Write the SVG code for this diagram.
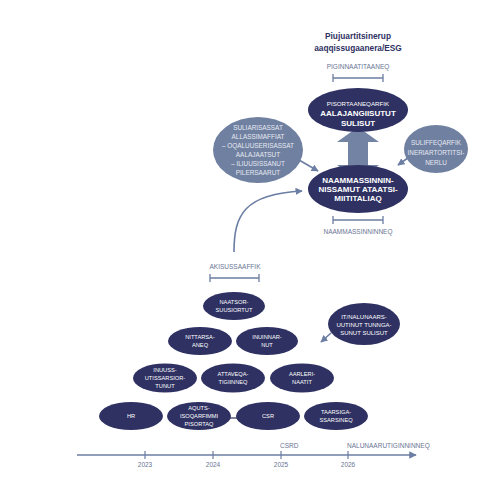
<svg xmlns="http://www.w3.org/2000/svg" width="500" height="500" viewBox="0 0 500 500">
<defs>
<marker id="ah" viewBox="0 0 10 10" refX="9" refY="5" markerWidth="5" markerHeight="5" orient="auto" markerUnits="strokeWidth">
<path d="M0,0 L10,5 L0,10 z" fill="#6c7ea3"/>
</marker>
<marker id="ahs" viewBox="0 0 10 10" refX="9" refY="5" markerWidth="4.5" markerHeight="4.5" orient="auto" markerUnits="strokeWidth">
<path d="M0,0 L10,5 L0,10 z" fill="#6c7ea3"/>
</marker>
</defs>
<style>
text{font-family:"Liberation Sans",Arial,sans-serif;text-anchor:middle}
.dark{fill:#2e3162}
.grey{fill:#7080a1}
.wt{fill:#ffffff;font-size:5.7px}
.gt{fill:#e6eaf2;font-size:6.4px}
.lbl{fill:#6a7594;font-size:6.5px}
.ttl{fill:#2e3162;font-size:8.3px;font-weight:bold}
.br{stroke:#6c7ea3;stroke-width:1.3;fill:none}
.con{stroke:#6c7ea3;fill:none}
</style>
<rect width="500" height="500" fill="#ffffff"/>

<g id="title">
<text class="ttl" x="358" y="39">Piujuartitsinerup</text>
<text class="ttl" x="358" y="51">aaqqissugaanera/ESG</text>
</g>

<g id="bracket-top">
<text class="lbl" x="358" y="69">PIGINNAATITAANEQ</text>
<path class="br" d="M333,78 H383 M333,74 V82 M383,74 V82"/>
</g>

<g id="connectors">
<path d="M358,127 L379,142 L368,142 L368,165 L379,165 L358,180 L337,165 L348,165 L348,142 L337,142 Z" fill="#7383a3"/>
<path class="con" stroke-width="1.6" d="M299,160 L318,171" marker-end="url(#ahs)"/>
<path class="con" stroke-width="1.6" d="M412,155 L398,165" marker-end="url(#ahs)"/>
<path class="con" stroke-width="1.6" d="M234,252 C234,215 244,194 302,191" marker-end="url(#ahs)"/>
<path class="con" stroke-width="1.6" d="M331,333 L321,342" marker-end="url(#ahs)"/>
<path stroke="#2e3162" stroke-width="1.2" d="M229,418 H238"/>
</g>

<g id="n-pisortaaneqarfik">
<ellipse class="dark" cx="358" cy="110" rx="50" ry="22"/>
<text x="358" y="106" style="fill:#fff;font-size:6.2px">PISORTAANEQARFIK</text>
<text x="358" y="116" style="fill:#fff;font-size:8px;font-weight:bold">AALAJANGIISUTUT</text>
<text x="358" y="126" style="fill:#fff;font-size:8px;font-weight:bold">SULISUT</text>
</g>

<g id="n-naammassinnin">
<ellipse class="dark" cx="358" cy="189" rx="50" ry="24"/>
<text x="358" y="183" style="fill:#fff;font-size:8px;font-weight:bold">NAAMMASSINNIN-</text>
<text x="358" y="192" style="fill:#fff;font-size:8px;font-weight:bold">NISSAMUT ATAATSI-</text>
<text x="358" y="201" style="fill:#fff;font-size:8px;font-weight:bold">MIITITALIAQ</text>
</g>

<g id="bracket-bottom">
<path class="br" d="M333,220 H383 M333,216 V224 M383,216 V224"/>
<text class="lbl" x="358" y="234">NAAMMASSINNINNEQ</text>
</g>

<g id="n-suliarisassat">
<ellipse class="grey" cx="258" cy="150" rx="45" ry="33"/>
<text class="gt" x="258" y="130">SULIARISASSAT</text>
<text class="gt" x="258" y="139">ALLASSIMAFFIAT</text>
<text class="gt" x="258" y="148">– OQALUUSERISASSAT</text>
<text class="gt" x="258" y="157">AALAJAATSUT</text>
<text class="gt" x="258" y="166">– ILIUUSISSANUT</text>
<text class="gt" x="258" y="175">PILERSAARUT</text>
</g>

<g id="n-suliffeqarfik">
<ellipse class="grey" cx="436" cy="149" rx="32" ry="24"/>
<text class="gt" x="436" y="145">SULIFFEQARFIK</text>
<text class="gt" x="436" y="155">INERIARTORTITSI-</text>
<text class="gt" x="436" y="165">NERLU</text>
</g>

<g id="bracket-akisussaaffik">
<text class="lbl" x="235" y="269">AKISUSSAAFFIK</text>
<path class="br" d="M210,278 H259 M210,274 V282 M259,274 V282"/>
</g>

<g id="n-naatsorsuusiortut">
<ellipse class="dark" cx="234" cy="306" rx="31" ry="14"/>
<text class="wt" x="234" y="304">NAATSOR-</text>
<text class="wt" x="234" y="312">SUUSIORTUT</text>
</g>

<g id="n-it">
<ellipse class="dark" cx="364" cy="324" rx="36" ry="21"/>
<text class="wt" x="364" y="319" style="font-size:6px">IT/NALUNAARS-</text>
<text class="wt" x="364" y="327" style="font-size:6px">UUTINUT TUNNGA-</text>
<text class="wt" x="364" y="335" style="font-size:6px">SUNUT SULISUT</text>
</g>

<g id="n-nittarsaaneq">
<ellipse class="dark" cx="200" cy="341" rx="32" ry="14"/>
<text class="wt" x="200" y="339">NITTARSA-</text>
<text class="wt" x="200" y="347">ANEQ</text>
</g>

<g id="n-inuinnarnut">
<ellipse class="dark" cx="267" cy="341" rx="31" ry="14"/>
<text class="wt" x="267" y="339">INUINNAR-</text>
<text class="wt" x="267" y="347">NUT</text>
</g>

<g id="n-inuussutissarsiortunut">
<ellipse class="dark" cx="165" cy="378" rx="32" ry="14.5"/>
<text class="wt" x="165" y="372">INUUSS-</text>
<text class="wt" x="165" y="380">UTISSARSIOR-</text>
<text class="wt" x="165" y="388">TUNUT</text>
</g>

<g id="n-attaveqatigiinneq">
<ellipse class="dark" cx="233" cy="378" rx="32" ry="14.5"/>
<text class="wt" x="233" y="376">ATTAVEQA-</text>
<text class="wt" x="233" y="384">TIGIINNEQ</text>
</g>

<g id="n-aarlerinaatit">
<ellipse class="dark" cx="302" cy="378" rx="32" ry="14.5"/>
<text class="wt" x="302" y="376">AARLERI-</text>
<text class="wt" x="302" y="384">NAATIT</text>
</g>

<g id="n-hr">
<ellipse class="dark" cx="131" cy="416" rx="32" ry="14"/>
<text class="wt" x="131" y="418">HR</text>
</g>

<g id="n-aqutsisoq">
<ellipse class="dark" cx="199" cy="416" rx="32" ry="14"/>
<text class="wt" x="199" y="410">AQUTS-</text>
<text class="wt" x="199" y="418">ISOQARFIMMI</text>
<text class="wt" x="199" y="426">PISORTAQ</text>
</g>

<g id="n-csr">
<ellipse class="dark" cx="268" cy="416" rx="32" ry="14"/>
<text class="wt" x="268" y="418">CSR</text>
</g>

<g id="n-taarsigassarsineq">
<ellipse class="dark" cx="336" cy="416" rx="32" ry="14"/>
<text class="wt" x="336" y="414">TAARSIGA-</text>
<text class="wt" x="336" y="422">SSARSINEQ</text>
</g>

<g id="timeline">
<path class="con" stroke-width="1.5" d="M77,455 H416" marker-end="url(#ah)"/>
<path class="con" stroke-width="1.2" d="M145,451 V459 M213,451 V459 M281,451 V459 M348,451 V459"/>
<text class="lbl" x="145" y="467">2023</text>
<text class="lbl" x="213" y="467">2024</text>
<text class="lbl" x="281" y="467">2025</text>
<text class="lbl" x="348" y="467">2026</text>
<text class="lbl" x="280" y="448" style="text-anchor:start">CSRD</text>
<text class="lbl" x="347" y="448" style="text-anchor:start">NALUNAARUTIGINNINNEQ</text>
</g>
</svg>
